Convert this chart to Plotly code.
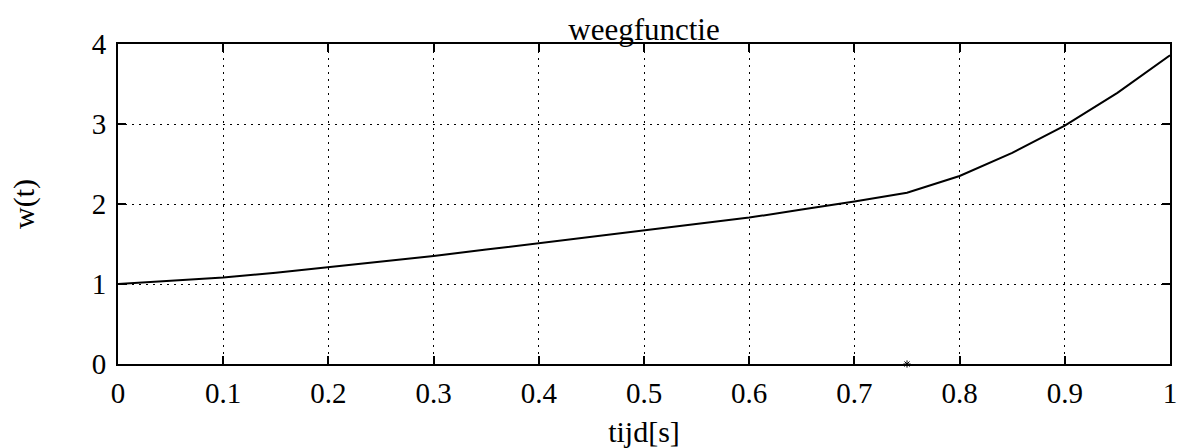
import plotly.graph_objects as go

t_values = [0.0, 0.05, 0.1, 0.15, 0.2, 0.25, 0.3, 0.35, 0.4, 0.45, 0.5,
            0.55, 0.6, 0.65, 0.7, 0.75, 0.8, 0.85, 0.9, 0.95, 1.0]
w_values = [1.00, 1.04, 1.08, 1.14, 1.21, 1.28, 1.35, 1.43, 1.51, 1.59, 1.67,
            1.75, 1.83, 1.93, 2.03, 2.14, 2.35, 2.64, 2.98, 3.39, 3.86]

x_ticks = [0, 0.1, 0.2, 0.3, 0.4, 0.5, 0.6, 0.7, 0.8, 0.9, 1]
x_tick_labels = ["0", "0.1", "0.2", "0.3", "0.4", "0.5", "0.6", "0.7", "0.8", "0.9", "1"]
y_ticks = [0, 1, 2, 3, 4]
y_tick_labels = ["0", "1", "2", "3", "4"]

mark_t = [0.75]
mark_w = [0.0]

FONT = "Liberation Serif"

fig = go.Figure()
fig.add_trace(go.Scatter(x=t_values, y=w_values, mode="lines",
                         line=dict(color="black", width=2), showlegend=False,
                         hoverinfo="skip"))
fig.add_trace(go.Scatter(x=mark_t, y=mark_w, mode="markers",
                         marker=dict(symbol="asterisk", size=6, color="black",
                                     line=dict(color="black", width=1)),
                         showlegend=False, cliponaxis=False, hoverinfo="skip"))

axis_common = dict(
    showline=True, linecolor="black", linewidth=2, mirror="ticks",
    ticks="inside", ticklen=8, tickwidth=1.5, tickcolor="black",
    showgrid=True, gridcolor="black", gridwidth=1.3, griddash="2px,5px",
    zeroline=False, automargin=False,
    tickfont=dict(family=FONT, size=29, color="black"),
)

fig.update_layout(
    width=1178, height=448,
    margin=dict(l=118, r=8, t=44, b=84),
    paper_bgcolor="white", plot_bgcolor="white",
    title=dict(text="weegfunctie", x=0.5, xref="paper", xanchor="center",
               y=0.934, yref="container", yanchor="middle",
               font=dict(family=FONT, size=31, color="black")),
    xaxis=dict(range=[0, 1], tickvals=x_ticks, ticktext=x_tick_labels,
               ticklabelstandoff=2,
               title=dict(text="tijd[s]", standoff=19,
                          font=dict(family=FONT, size=30, color="black")),
               **axis_common),
    yaxis=dict(range=[0, 4], tickvals=y_ticks, ticktext=y_tick_labels,
               ticklabelstandoff=4,
               title=dict(text="w(t)", standoff=48,
                          font=dict(family=FONT, size=30, color="black")),
               **axis_common),
)

fig.write_html("out.html")
